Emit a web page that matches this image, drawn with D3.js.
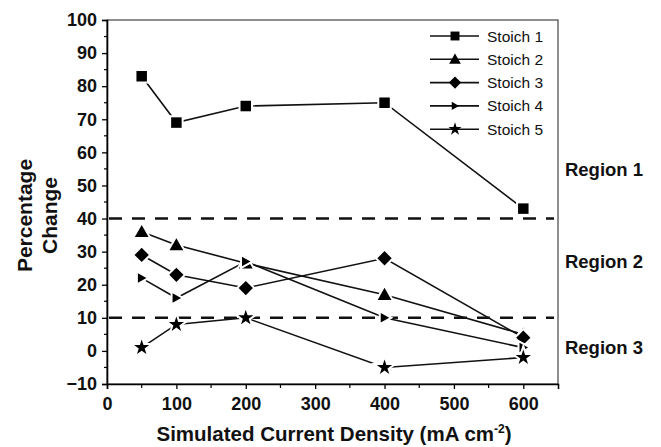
<!DOCTYPE html>
<html><head><meta charset="utf-8">
<script src="https://cdn.jsdelivr.net/npm/d3@7"></script>
<style>
html,body{margin:0;padding:0;background:#fff;}
text{font-family:Arial,"Liberation Sans",sans-serif;}
</style></head>
<body>
<svg id="c" width="661" height="447"></svg>
<script>
const xValues = [50, 100, 200, 400, 600];
const seriesNames = ["Stoich 1", "Stoich 2", "Stoich 3", "Stoich 4", "Stoich 5"];
const stoich1 = [83, 69, 74, 75, 43];
const stoich2 = [36, 32, 26.5, 17, 5];
const stoich3 = [29, 23, 19, 28, 4];
const stoich4 = [22, 16, 27, 10, 1];
const stoich5 = [1, 8, 10, -5, -2];
const xTicks = [0, 100, 200, 300, 400, 500, 600];
const yTicks = [-10, 0, 10, 20, 30, 40, 50, 60, 70, 80, 90, 100];
const regionBounds = [40, 10];
const regionLabels = ["Region 1", "Region 2", "Region 3"];
const regionLabelValues = [53, 25, -1];

const allSeries = [stoich1, stoich2, stoich3, stoich4, stoich5];
const shapes = ["square", "triangle", "diamond", "right", "star"];

const svg = d3.select("#c");
const L = 107, R = 558, T = 20, B = 384;
const x = d3.scaleLinear().domain([0, 650]).range([L, R]);
const y = d3.scaleLinear().domain([-10, 100]).range([B, T]);

// frame (top/right)
svg.append("rect").attr("x", L).attr("y", T).attr("width", R - L).attr("height", B - T)
  .attr("fill", "none").attr("stroke", "#444").attr("stroke-width", 1.2);

// axes
const yAxis = d3.axisLeft(y).tickValues(yTicks).tickSize(5).tickPadding(5).tickFormat(d3.format("d"));
const gy = svg.append("g").attr("transform", `translate(${L},0)`).call(yAxis);
const xAxis = d3.axisBottom(x).tickValues(xTicks).tickSize(5).tickPadding(8).tickFormat(d3.format("d"));
const gx = svg.append("g").attr("transform", `translate(0,${B})`).call(xAxis);
[gx, gy].forEach(g => {
  g.select(".domain").attr("stroke", "#000").attr("stroke-width", 1.6);
  g.selectAll(".tick line").attr("stroke", "#000").attr("stroke-width", 1.3);
  g.selectAll(".tick text").attr("font-size", 18).attr("font-weight", "bold").attr("fill", "#111");
});
// minor ticks
const yMinor = d3.range(-5, 100, 10);
svg.append("g").selectAll("line").data(yMinor).join("line")
  .attr("x1", L - 3).attr("x2", L).attr("y1", d => y(d)).attr("y2", d => y(d))
  .attr("stroke", "#000").attr("stroke-width", 1.2);
const xMinor = d3.range(50, 650, 100);
svg.append("g").selectAll("line").data(xMinor).join("line")
  .attr("x1", d => x(d)).attr("x2", d => x(d)).attr("y1", B).attr("y2", B + 4)
  .attr("stroke", "#000").attr("stroke-width", 1.2);

// region dashed lines
svg.append("g").selectAll("line").data(regionBounds).join("line")
  .attr("x1", x(0) + 2).attr("x2", R - 4).attr("y1", d => y(d)).attr("y2", d => y(d))
  .attr("stroke", "#111").attr("stroke-width", 2.4).attr("stroke-dasharray", "13,10");

// region labels
svg.append("g").selectAll("text").data(regionLabels).join("text")
  .attr("x", 604).attr("y", (d, i) => y(regionLabelValues[i]))
  .attr("text-anchor", "middle")
  .attr("font-size", 18.5).attr("font-weight", "bold").attr("fill", "#111").text(d => d);

// marker symbol generator
function markerPath(shape, s) {
  switch (shape) {
    case "square": return `M${-s/2},${-s/2}h${s}v${s}h${-s}Z`;
    case "triangle": return `M0,${-s*0.55}L${s*0.55},${s*0.42}L${-s*0.55},${s*0.42}Z`;
    case "diamond": return `M0,${-s*0.55}L${s*0.55},0L0,${s*0.55}L${-s*0.55},0Z`;
    case "right": return `M${-s*0.4},${-s*0.5}L${s*0.5},0L${-s*0.4},${s*0.5}Z`;
    case "star": return d3.symbol(d3.symbolStar, s * s * 0.55)();
  }
}
const sizes = [10.5, 12.5, 13, 9.5, 11.5];

const line = d3.line().x((d, i) => x(xValues[i])).y(d => y(d));
allSeries.forEach((vals, k) => {
  svg.append("path").attr("d", line(vals)).attr("fill", "none")
    .attr("stroke", "#111").attr("stroke-width", 1.6);
});
allSeries.forEach((vals, k) => {
  svg.append("g").selectAll("path").data(vals).join("path")
    .attr("transform", (d, i) => `translate(${x(xValues[i])},${y(d)})`)
    .attr("d", markerPath(shapes[k], sizes[k]))
    .attr("fill", "#000").attr("stroke", "#fff").attr("stroke-width", 4)
    .style("paint-order", "stroke");
});

// legend
const lg = svg.append("g");
seriesNames.forEach((name, k) => {
  const ly = 36 + k * 23.3;
  lg.append("line").attr("x1", 430).attr("x2", 479).attr("y1", ly).attr("y2", ly)
    .attr("stroke", "#111").attr("stroke-width", 1.6);
  lg.append("path").attr("transform", `translate(455,${ly})`)
    .attr("d", markerPath(shapes[k], sizes[k] * 0.85)).attr("fill", "#000");
  lg.append("text").attr("x", 487).attr("y", ly).attr("dy", "0.36em")
    .attr("font-size", 15.5).attr("fill", "#111").text(name);
});

// axis titles
const yt = svg.append("text").attr("transform", "translate(0,215.5) rotate(-90)")
  .attr("text-anchor", "middle").attr("font-size", 21).attr("font-weight", "bold").attr("fill", "#111");
yt.append("tspan").attr("x", 0).attr("y", 32).text("Percentage");
yt.append("tspan").attr("x", 0).attr("y", 57).text("Change");

const xt = svg.append("text").attr("x", 334).attr("y", 441).attr("text-anchor", "middle")
  .attr("font-size", 20.5).attr("font-weight", "bold").attr("fill", "#111");
xt.append("tspan").text("Simulated Current Density (mA cm");
xt.append("tspan").attr("font-size", 12).attr("dy", -8).text("-2");
xt.append("tspan").attr("dy", 8).text(")");
</script>
</body></html>
